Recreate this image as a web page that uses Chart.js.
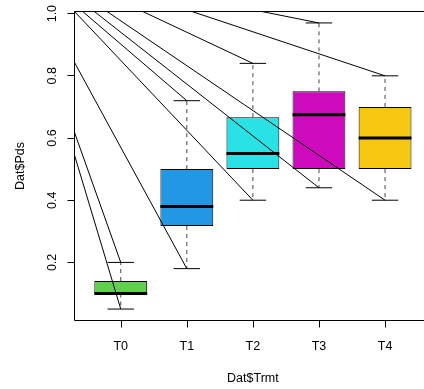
<!DOCTYPE html>
<html>
<head>
<meta charset="utf-8">
<script src="https://cdn.jsdelivr.net/npm/chart.js@4.4.1/dist/chart.umd.min.js"></script>
<style>
  html, body { margin: 0; padding: 0; background: #fff; overflow: hidden; }
  #wrap { width: 440px; height: 389px; }
</style>
</head>
<body>
<div id="wrap"><canvas id="boxChart" width="440" height="389"></canvas></div>
<script>
// treatment groups, drawn at x = 1..5
const groups = ['T0', 'T1', 'T2', 'T3', 'T4'];
const boxColors = ['#61D04F', '#2297E6', '#28E2E5', '#CD0BBC', '#F5C710'];

// boxplot stats
const lowerWhisker = [0.05, 0.18, 0.40, 0.44, 0.40];
const lowerHinge   = [0.10, 0.317, 0.50, 0.50, 0.50];
const medians      = [0.10, 0.38, 0.55, 0.675, 0.60];
const upperHinge   = [0.14, 0.50, 0.667, 0.75, 0.70];
const upperWhisker = [0.20, 0.72, 0.84, 0.97, 0.80];

const yTicks = [0.2, 0.4, 0.6, 0.8, 1.0];

// the stray lines: where each one enters the plot and which whisker end it runs to
const linkStartX  = [0.30, 0.30, 0.30, 0.30, 0.424, 0.600, 0.792, 1.332, 2.078, 3.133];
const linkStartY  = [0.618, 0.545, 0.843, 1.0068, 1.0068, 1.0068, 1.0068, 1.0068, 1.0068, 1.0068];
const linkToGroup = [0, 0, 1, 2, 1, 3, 4, 2, 4, 3];
const linkToEnd   = ['upper', 'lower', 'lower', 'lower', 'upper', 'lower', 'lower', 'upper', 'upper', 'upper'];

const FONT = '12.5px "Liberation Sans", Arial, sans-serif';

// turn [x0, y0, x1, y1] pieces into one line dataset with gaps
function segs(list) {
  const out = [];
  list.forEach((s, i) => {
    if (i > 0) out.push({ x: s[0], y: null });
    out.push({ x: s[0], y: s[1] }, { x: s[2], y: s[3] });
  });
  return out;
}

const xs = groups.map((g, i) => i + 1);

const boxData = xs.map((x, i) => ({ x: x, y: [lowerHinge[i], upperHinge[i]] }));
const medianData = segs(xs.map((x, i) => [x - 0.4, medians[i], x + 0.4, medians[i]]));
const whiskerData = segs(xs.map((x, i) => [x, upperHinge[i], x, upperWhisker[i]])
  .concat(xs.map((x, i) => [x, lowerHinge[i], x, lowerWhisker[i]])));
const capData = segs(xs.map((x, i) => [x - 0.2, upperWhisker[i], x + 0.2, upperWhisker[i]])
  .concat(xs.map((x, i) => [x - 0.2, lowerWhisker[i], x + 0.2, lowerWhisker[i]])));
const linkData = segs(linkStartX.map((sx, i) => {
  const g = linkToGroup[i];
  const end = linkToEnd[i] === 'upper' ? upperWhisker[g] : lowerWhisker[g];
  return [sx, linkStartY[i], g + 1, end];
}));

const lineStyle = { type: 'line', pointRadius: 0, tension: 0, fill: false, spanGaps: false, borderColor: '#000' };

// R-style frame, ticks and labels
const rAxes = {
  id: 'rAxes',
  afterDraw(chart) {
    const { ctx, chartArea: a, scales: { x, y } } = chart;
    ctx.save();
    ctx.strokeStyle = '#000';
    ctx.lineWidth = 1;
    ctx.beginPath();
    ctx.rect(a.left, a.top, a.right - a.left, a.bottom - a.top);
    yTicks.forEach(v => {
      const py = Math.floor(y.getPixelForValue(v)) + 0.5;
      ctx.moveTo(a.left - 7, py);
      ctx.lineTo(a.left, py);
    });
    xs.forEach(v => {
      const px = Math.round(x.getPixelForValue(v)) + 0.5;
      ctx.moveTo(px, a.bottom);
      ctx.lineTo(px, a.bottom + 7);
    });
    ctx.stroke();

    ctx.fillStyle = '#000';
    ctx.font = FONT;
    ctx.textAlign = 'center';
    ctx.textBaseline = 'alphabetic';
    groups.forEach((g, i) => ctx.fillText(g, x.getPixelForValue(xs[i]), 350));
    ctx.fillText('Dat$Trmt', (a.left + a.right) / 2, 382);

    yTicks.forEach(v => {
      ctx.save();
      ctx.translate(55.5, y.getPixelForValue(v));
      ctx.rotate(-Math.PI / 2);
      ctx.fillText(v.toFixed(1), 0, 0);
      ctx.restore();
    });
    ctx.save();
    ctx.translate(24, (a.top + a.bottom) / 2);
    ctx.rotate(-Math.PI / 2);
    ctx.fillText('Dat$Pds', 0, 0);
    ctx.restore();
    ctx.restore();
  }
};

const chart = new Chart(document.getElementById('boxChart'), {
  type: 'line',
  data: {
    datasets: [
      Object.assign({}, lineStyle, { label: 'links', data: linkData, borderWidth: 1, order: 0, clip: 0 }),
      Object.assign({}, lineStyle, { label: 'medians', data: medianData, borderWidth: 3, order: 1 }),
      Object.assign({}, lineStyle, { label: 'caps', data: capData, borderWidth: 1, order: 2 }),
      Object.assign({}, lineStyle, { label: 'whiskers', data: whiskerData, borderWidth: 1, borderColor: '#444', borderDash: [4, 4], order: 3 }),
      {
        type: 'bar',
        label: 'boxes',
        data: boxData,
        backgroundColor: boxColors,
        borderColor: '#000',
        borderWidth: 1,
        borderSkipped: false,
        inflateAmount: 0,
        barPercentage: 0.8,
        categoryPercentage: 1,
        order: 4
      }
    ]
  },
  options: {
    responsive: false,
    animation: false,
    devicePixelRatio: 1,
    layout: { padding: { left: 74.5, top: 11.5, right: 8.7, bottom: 68.5 } },
    plugins: { legend: { display: false }, tooltip: { enabled: false } },
    scales: {
      x: {
        type: 'linear', min: 0.3, max: 5.7, offset: false, display: false,
        // one tick per group, so the bar width is worked out from a 1-unit step
        afterBuildTicks: scale => { scale.ticks = xs.map(v => ({ value: v })); }
      },
      y: { type: 'linear', min: 0.0132, max: 1.0068, display: false }
    }
  },
  plugins: [rAxes]
});
</script>
</body>
</html>
